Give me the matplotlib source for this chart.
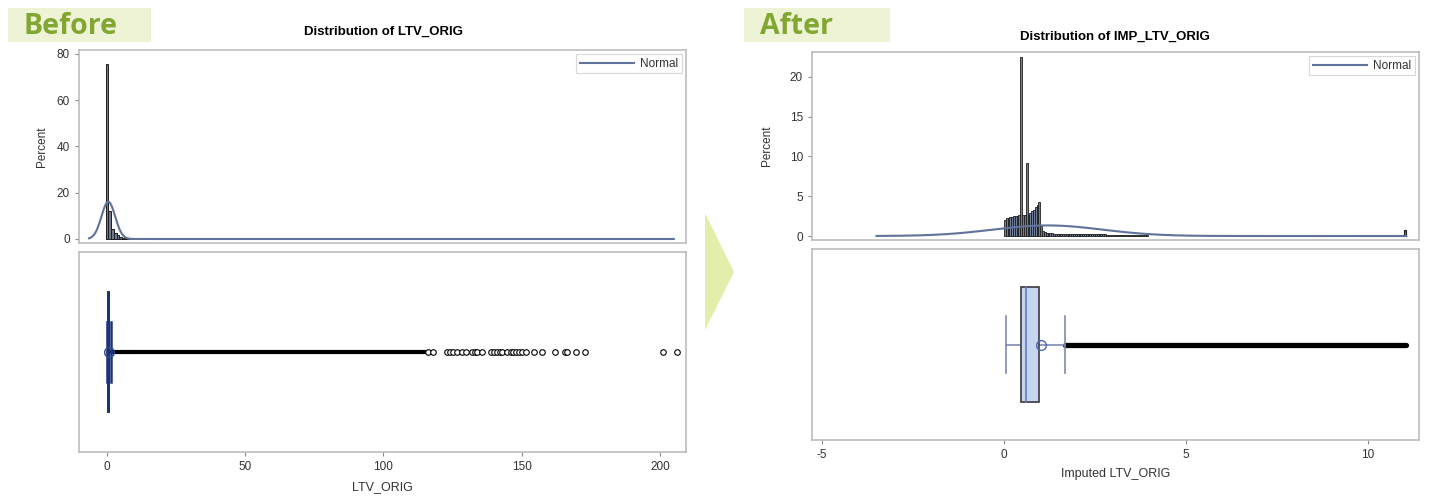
import matplotlib
matplotlib.use("Agg")
import matplotlib.pyplot as plt
import numpy as np
from matplotlib.patches import Rectangle, Polygon
from matplotlib.lines import Line2D

plt.rcParams['font.family'] = ['Liberation Sans', 'DejaVu Sans']
plt.rcParams['axes.unicode_minus'] = False

W, H = 1434, 501

# ---------------- data: before imputation ----------------
before_bin_width = 1.0
before_bin_centers = [0, 1, 2, 3, 4, 5, 6, 7, 8, 9]
before_percent = [75.5, 12.0, 4.5, 2.6, 1.6, 1.0, 0.6, 0.4, 0.25, 0.2]
before_normal_mu = 0.5
before_normal_sigma = 2.48
before_curve_span = [-6.5, 205.0]
# whisker_lo, q1, median, q3, whisker_hi
before_box_stats = [0.05, 0.55, 0.75, 0.92, 1.45]
before_mean = 0.9
before_dense_outliers = [1.6, 115.0]
before_outliers = [116, 118, 123, 124, 125, 126.5, 128.5, 130, 132, 133, 134,
                   135.5, 139, 140, 141, 142, 143, 144.5, 146, 147, 148, 149,
                   150, 151.5, 154.5, 157.5, 162, 165.5, 166.5, 169.5, 173,
                   201, 206]
before_xticks = [0, 50, 100, 150, 200]
before_yticks = [0, 20, 40, 60, 80]

# ---------------- data: after imputation ----------------
after_bin_width = 0.05
after_bin_start = 0.0
after_percent = [2.0, 2.2, 2.3, 2.4, 2.45, 2.5, 2.5, 2.55, 2.6, 22.5,
                 2.6, 2.65, 9.2, 2.7, 2.9, 3.1, 3.3, 3.6, 3.9, 4.3,
                 1.2, 0.6, 0.45, 0.4, 0.35, 0.33, 0.32, 0.31, 0.3, 0.3,
                 0.29, 0.29, 0.28, 0.28, 0.27, 0.27, 0.26, 0.26, 0.25, 0.25,
                 0.25, 0.24, 0.24, 0.23, 0.23, 0.23, 0.22, 0.22, 0.22, 0.21,
                 0.21, 0.21, 0.2, 0.2, 0.2, 0.2, 0.19, 0.19, 0.19, 0.18,
                 0.18, 0.18, 0.18, 0.17, 0.17, 0.17, 0.17, 0.16, 0.16, 0.16,
                 0.16, 0.15, 0.15, 0.15, 0.15, 0.15, 0.14, 0.14, 0.14]
after_cap_bin = [11.0]
after_cap_percent = [0.8]
after_normal_mu = 1.2
after_normal_sigma = 1.5
after_curve_span = [-3.5, 11.05]
after_box_stats = [0.05, 0.46, 0.62, 0.97, 1.68]
after_mean = 1.02
after_dense_outliers = [1.68, 11.05]
after_xticks = [-5, 0, 5, 10]
after_yticks = [0, 5, 10, 15, 20]


def px_rect(x0, y0, x1, y1):
    return [x0 / W, 1 - y1 / H, (x1 - x0) / W, (y1 - y0) / H]


def fx(x):
    return x / W


def fy(y):
    return 1 - y / H


FRAME = '#bdbdbd'
CURVE = '#60739a'


def style_frame(ax):
    for s in ax.spines.values():
        s.set_color(FRAME)
        s.set_linewidth(1.2)
    ax.tick_params(colors='#8a8a8a', labelcolor='#333333', labelsize=8.5,
                   length=3, width=0.8)


def normal_curve(ax, mu, sigma, bw, span):
    xs = np.linspace(span[0], span[1], 2000)
    ys = 100 * bw * np.exp(-0.5 * ((xs - mu) / sigma) ** 2) / (sigma * np.sqrt(2 * np.pi))
    ax.plot(xs, ys, color=CURVE, lw=1.5, zorder=4)


def add_legend(ax):
    h = Line2D([0], [0], color=CURVE, lw=1.5)
    leg = ax.legend([h], ['Normal'], loc='upper right', fontsize=8.5,
                    frameon=True, fancybox=False, handlelength=4.6,
                    borderaxespad=0.35, borderpad=0.3, handletextpad=0.5)
    leg.get_frame().set_edgecolor('#cfcfcf')
    leg.get_frame().set_linewidth(0.8)
    for t in leg.get_texts():
        t.set_color('#333333')


def draw_box(ax, stats, mean, box_edge, box_fill, med_color, whisk_color,
             mean_color, box_lw, whisk_lw):
    wl, q1, med, q3, wh = stats
    ax.add_patch(Rectangle((q1, 0.2), q3 - q1, 0.6, facecolor=box_fill,
                           edgecolor=box_edge, lw=box_lw, zorder=3))
    ax.plot([med, med], [0.2, 0.8], color=med_color, lw=1.2, zorder=4)
    ax.plot([wl, q1], [0.5, 0.5], color=whisk_color, lw=whisk_lw, zorder=2)
    ax.plot([q3, wh], [0.5, 0.5], color=whisk_color, lw=whisk_lw, zorder=2)
    for w in (wl, wh):
        ax.plot([w, w], [0.35, 0.65], color=whisk_color, lw=whisk_lw, zorder=2)
    ax.plot([mean], [0.5], 'o', mfc='none', mec=mean_color, ms=7, mew=1.0,
            zorder=5)


fig = plt.figure(figsize=(W / 100, H / 100), dpi=100)
fig.patch.set_facecolor('white')

# header tags
for (x0, x1, label) in [(8, 151, 'Before'), (744, 890, 'After')]:
    fig.patches.append(Rectangle((fx(x0), fy(42)), (x1 - x0) / W, 34 / H,
                                 transform=fig.transFigure, facecolor='#edf3d4',
                                 edgecolor='none', zorder=0))
    fig.text(fx(x0 + 16), fy(27), label, fontsize=20.5, fontweight='bold',
             color='#82a632', family=['Open Sans', 'DejaVu Sans'],
             va='center', ha='left')

# arrow between panels
fig.patches.append(Polygon([[fx(705), fy(213)], [fx(734), fy(272)],
                            [fx(705), fy(330)]], closed=True,
                           transform=fig.transFigure, facecolor='#e3eeaa',
                           edgecolor='none'))

# ---------------- Before ----------------
xl_b = (-10.1, 209.4)
ax1 = fig.add_axes(px_rect(79, 50, 686, 243))
ax1.bar(before_bin_centers, before_percent, width=before_bin_width,
        color='#6d7a92', edgecolor='#1e1e1e', lw=0.7, zorder=3)
normal_curve(ax1, before_normal_mu, before_normal_sigma, before_bin_width,
             before_curve_span)
ax1.set_xlim(*xl_b)
ax1.set_ylim(-1.73, 81.7)
ax1.set_yticks(before_yticks)
ax1.set_xticks([])
ax1.set_ylabel('Percent', fontsize=8.5, color='#333333', labelpad=6)
style_frame(ax1)
add_legend(ax1)

ax2 = fig.add_axes(px_rect(79, 252, 686, 452))
ax2.plot(before_dense_outliers, [0.5, 0.5], color='black', lw=3.0,
         solid_capstyle='round', zorder=2)
ax2.plot(before_outliers, [0.5] * len(before_outliers), 'o', mfc='white',
         mec='black', ms=4.0, mew=0.8, zorder=3)
draw_box(ax2, before_box_stats, before_mean, '#1c3378', '#3d63b0',
         '#1c3378', '#1c3378', '#2a4a9a', 1.4, 1.8)
ax2.set_xlim(*xl_b)
ax2.set_ylim(0, 1)
ax2.set_yticks([])
ax2.set_xticks(before_xticks)
ax2.set_xlabel('LTV_ORIG', fontsize=9, color='#333333', labelpad=6)
style_frame(ax2)

fig.text(fx(383), fy(32), 'Distribution of LTV_ORIG', fontsize=9.5,
         fontweight='bold', ha='center', va='center')

# ---------------- After ----------------
xl_a = (-5.27, 11.40)
ax3 = fig.add_axes(px_rect(812, 52, 1419, 240))
after_centers = [after_bin_start + (i + 0.5) * after_bin_width
                 for i in range(len(after_percent))]
ax3.bar(after_centers, after_percent, width=after_bin_width,
        color='#6f7d96', edgecolor='#1e1e1e', lw=0.6, zorder=3)
ax3.bar([c + after_bin_width / 2 for c in after_cap_bin], after_cap_percent,
        width=after_bin_width, color='#6f7d96', edgecolor='#1e1e1e', lw=0.8,
        zorder=3)
normal_curve(ax3, after_normal_mu, after_normal_sigma, after_bin_width,
             after_curve_span)
ax3.set_xlim(*xl_a)
ax3.set_ylim(-0.5, 23.1)
ax3.set_yticks(after_yticks)
ax3.set_xticks([])
ax3.set_ylabel('Percent', fontsize=8.5, color='#333333', labelpad=12)
style_frame(ax3)
add_legend(ax3)

ax4 = fig.add_axes(px_rect(812, 249, 1419, 440))
ax4.plot(after_dense_outliers, [0.5, 0.5], color='black', lw=3.8,
         solid_capstyle='round', zorder=2)
draw_box(ax4, after_box_stats, after_mean, '#3a3a3a', '#c6d5f0',
         '#6478c0', '#7f8ab2', '#5064b8', 1.2, 1.2)
ax4.set_xlim(*xl_a)
ax4.set_ylim(0, 1)
ax4.set_yticks([])
ax4.set_xticks(after_xticks)
ax4.set_xlabel('Imputed LTV_ORIG', fontsize=9, color='#333333', labelpad=5)
style_frame(ax4)

fig.text(fx(1115), fy(37), 'Distribution of IMP_LTV_ORIG', fontsize=9.5,
         fontweight='bold', ha='center', va='center')

fig.savefig('out.png', dpi=100)
